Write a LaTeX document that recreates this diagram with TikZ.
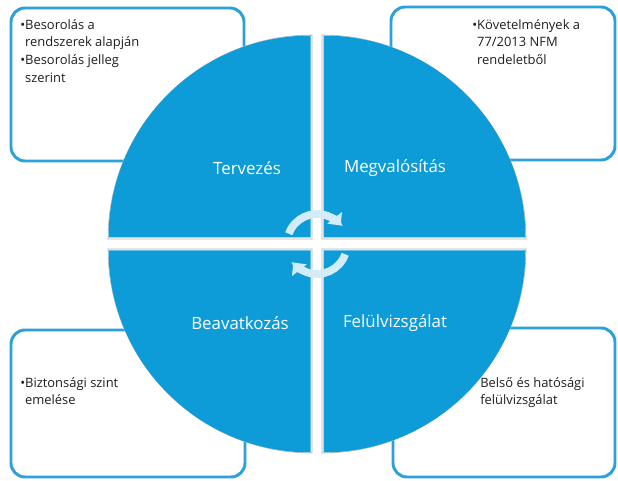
\documentclass[tikz,border=0pt]{standalone}
\usepackage{fontspec}
\setmainfont{Open Sans}
\usetikzlibrary{arrows.meta}
\definecolor{cycleblue}{HTML}{0E9CD8}
\definecolor{boxblue}{HTML}{2BA0DA}
\definecolor{arrowpale}{HTML}{D4EBF8}
\definecolor{textgray}{HTML}{1E1E1E}
\begin{document}
\begin{tikzpicture}[
  x=0.025cm, y=0.025cm,
  box/.style={draw=boxblue, line width=2.1pt, rounded corners=10pt},
  note/.style={anchor=north west, align=left, inner sep=0pt, text=textgray, font=\fontsize{9.2}{12.6}\selectfont},
  quadlabel/.style={text=white, font=\fontsize{12}{14}\selectfont},
  quadrim/.style={fill=white, draw=black!30, line width=0.4pt},
  quadfill/.style={fill=cycleblue},
  cyclearrow/.style={draw=arrowpale, line width=5.5pt, -{Triangle[length=7pt, width=13pt]}}
]
\useasboundingbox (0,0) rectangle (618,480);
\coordinate (c) at (317,236);
% boxes behind the circle
\draw[box] (11,472) rectangle (244,319);
\draw[box] (391,473) rectangle (615,320);
\draw[box] (11,150) rectangle (245,3);
\draw[box] (393,152) rectangle (615,3);
\node[note] (plan) at (20,461) {•Besorolás a\\\phantom{•}rendszerek alapján\\•Besorolás jelleg\\\phantom{•}szerint};
\node[note] (req) at (472,461) {•Követelmények a\\\phantom{•}77/2013 NFM\\\phantom{•}rendeletből};
\node[note] (raise) at (20,103) {•Biztonsági szint\\\phantom{•}emelése};
\node[note] (audit) at (480,103) {Belső és hatósági\\felülvizsgálat};
% four quarters of the cycle
\foreach \a/\sx/\sy in {0/1/1, 90/-1/1, 180/-1/-1, 270/1/-1} {
  \filldraw[quadrim] ([shift={(\sx*5,\sy*5)}]c) -- ++(\a:204) arc[start angle=\a, delta angle=90, radius=204] -- cycle;
  \fill[quadfill] ([shift={(\sx*6.5,\sy*6.5)}]c) -- ++(\a:202) arc[start angle=\a, delta angle=90, radius=202] -- cycle;
}
\node[quadlabel] (tervezes) at (247,312) {Tervezés};
\node[quadlabel] (megval) at (395,312) {Megvalósítás};
\node[quadlabel] (beavat) at (240,157) {Beavatkozás};
\node[quadlabel] (felulv) at (395,157) {Felülvizsgálat};
% circular arrows
\draw[cyclearrow] ([shift={(160:30)}]c) arc[start angle=160, end angle=38, radius=30];
\draw[cyclearrow] ([shift={(-20:30)}]c) arc[start angle=-20, end angle=-142, radius=30];
\end{tikzpicture}
\end{document}
